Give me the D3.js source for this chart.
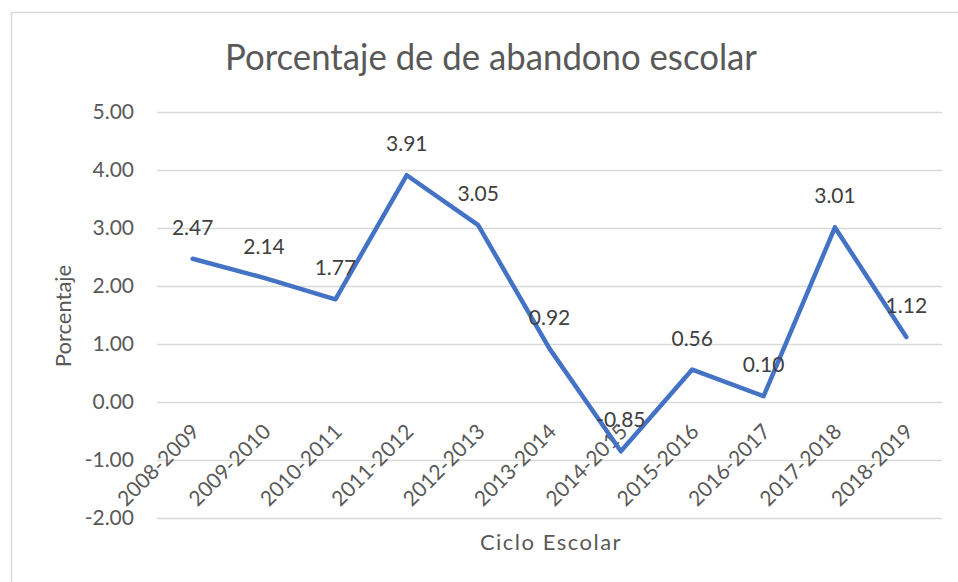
<!DOCTYPE html>
<html>
<head>
<meta charset="utf-8">
<script src="https://cdn.jsdelivr.net/npm/d3@7"></script>
<style>
  body { margin: 0; background: #fff; }
  text { font-family: Lato, "Liberation Sans", sans-serif; fill: #595959; }
</style>
</head>
<body>
<div id="chart"></div>
<script>
// data
var ciclos = ["2008-2009", "2009-2010", "2010-2011", "2011-2012", "2012-2013", "2013-2014",
              "2014-2015", "2015-2016", "2016-2017", "2017-2018", "2018-2019"];
var porcentaje = [2.47, 2.14, 1.77, 3.91, 3.05, 0.92, -0.85, 0.56, 0.10, 3.01, 1.12];
var yTicks = [-2, -1, 0, 1, 2, 3, 4, 5];

var svgWidth = 958, svgHeight = 582;
var margin = {top: 112, right: 16, bottom: 64, left: 157};
var width = 942 - margin.left;
var height = 518 - margin.top;

var svg = d3.select("#chart").append("svg")
  .attr("width", svgWidth)
  .attr("height", svgHeight);

// chart border
svg.append("rect")
  .attr("x", 11.5).attr("y", 12.5)
  .attr("width", 970).attr("height", 620)
  .attr("fill", "none")
  .attr("stroke", "#d9d9d9")
  .attr("stroke-width", 1.5);

var chartGroup = svg.append("g")
  .attr("transform", `translate(${margin.left}, ${margin.top})`);

var x = d3.scalePoint()
  .domain(ciclos)
  .range([0, width])
  .padding(0.5);

var y = d3.scaleLinear()
  .domain([-2, 5])
  .range([height, 0]);

// plain hyphen for negatives, like the original
var fmt = d => d.toFixed(2);

// gridlines + y labels
var leftAxis = d3.axisLeft(y)
  .tickValues(yTicks)
  .tickSize(-width)
  .tickPadding(23)
  .tickFormat(fmt);

var yAxis = chartGroup.append("g").call(leftAxis);
yAxis.select(".domain").remove();
yAxis.selectAll("line").attr("stroke", "#d9d9d9").attr("stroke-width", 1.5);
yAxis.selectAll("text")
  .style("font-size", "21px")
  .attr("fill", "#595959");

// x labels, rotated
var zeroY = y(0);
chartGroup.append("g")
  .selectAll("text")
  .data(ciclos)
  .enter()
  .append("text")
  .attr("text-anchor", "end")
  .attr("transform", d => `translate(${x(d) + 8}, ${zeroY + 31}) rotate(-45)`)
  .style("font-size", "21px")
  .text(d => d);

// line
var line = d3.line()
  .x((d, i) => x(ciclos[i]))
  .y(d => y(d));

chartGroup.append("path")
  .datum(porcentaje)
  .attr("fill", "none")
  .attr("stroke", "#4472c4")
  .attr("stroke-width", 4.5)
  .attr("stroke-linejoin", "round")
  .attr("stroke-linecap", "round")
  .attr("d", line);

// data labels
chartGroup.append("g")
  .selectAll("text")
  .data(porcentaje)
  .enter()
  .append("text")
  .attr("x", (d, i) => x(ciclos[i]))
  .attr("y", d => y(d) - 24)
  .attr("text-anchor", "middle")
  .style("font-size", "21px")
  .style("fill", "#404040")
  .text(fmt);

// title
svg.append("text")
  .attr("x", 491)
  .attr("y", 70)
  .attr("text-anchor", "middle")
  .attr("textLength", 532)
  .attr("lengthAdjust", "spacingAndGlyphs")
  .style("font-size", "36px")
  .text("Porcentaje de de abandono escolar");

// axis titles
svg.append("text")
  .attr("transform", "translate(71, 316) rotate(-90)")
  .attr("text-anchor", "middle")
  .style("font-size", "22px")
  .text("Porcentaje");

svg.append("text")
  .attr("x", 551)
  .attr("y", 550)
  .attr("text-anchor", "middle")
  .style("font-size", "22px")
  .style("letter-spacing", "1.5px")
  .text("Ciclo Escolar");
</script>
</body>
</html>
